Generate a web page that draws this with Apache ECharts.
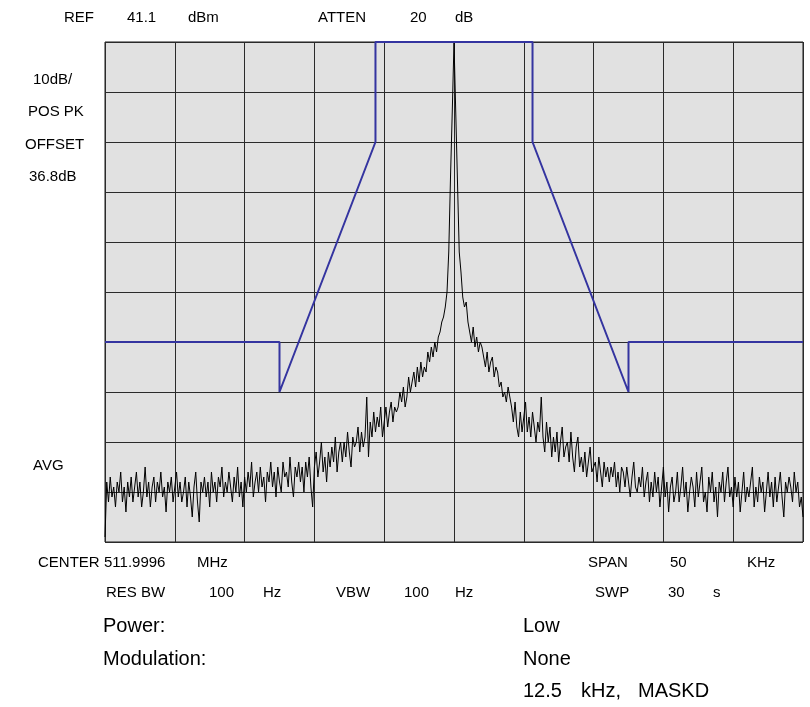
<!DOCTYPE html>
<html><head><meta charset="utf-8">
<script src="https://cdn.jsdelivr.net/npm/echarts@6/dist/echarts.min.js"></script>
<style>html,body{margin:0;padding:0;background:#fff}#c{width:810px;height:707px}</style>
</head><body><div id="c"></div>
<script>
// Sweep: -25 kHz .. +25 kHz around centre, 0.125 kHz per sample (401 samples)
const freqStartKHz = -25;
const freqStepKHz = 0.125;
// Trace level in dB relative to the reference line (top of screen = 0 dB, 10 dB/div)
const traceDb = [
 -99,-88,-92,-87,-91,-89,-93,-88,
 -90,-86,-92,-89,-94,-88,-91,-87,
 -92,-89,-86,-91,-88,-93,-90,-85,
 -91,-88,-93,-89,-87,-92,-88,-90,
 -86,-91,-89,-94,-88,-90,-87,-92,
 -89,-86,-91,-88,-92,-90,-87,-93,
 -88,-91,-95,-89,-86,-92,-96,-88,
 -90,-87,-91,-88,-93,-86,-90,-88,
 -92,-87,-89,-85,-91,-88,-90,-86,
 -89,-92,-87,-90,-85,-91,-88,-93,
 -87,-90,-86,-89,-84,-91,-88,-86,
 -90,-85,-89,-87,-92,-86,-88,-84,
 -89,-86,-91,-85,-88,-90,-84,-87,
 -86,-89,-83,-88,-91,-85,-87,-84,
 -88,-85,-90,-84,-87,-83,-89,-93,
 -85,-82,-87,-84,-80,-86,-83,-88,
 -82,-85,-81,-84,-79,-86,-82,-80,
 -84,-80,-83,-78,-82,-85,-79,-81,
 -80,-77,-82,-78,-81,-79,-71,-83,
 -76,-79,-74,-78,-75,-77,-73,-79,
 -76,-73,-77,-74,-72,-76,-73,-74,
 -73,-70,-72,-69,-73,-71,-67,-70,
 -68,-66,-69,-65,-68,-64,-67,-65,
 -66,-62,-64,-61,-63,-60,-62,-59,
 -58,-56,-55,-53,-50,-42,-27,-14,
 0,
 -14,-28,-42,-46,-51,-53,-52,-56,
 -58,-60,-57,-61,-59,-62,-60,-61,
 -63,-65,-62,-66,-64,-63,-67,-65,
 -66,-69,-68,-71,-70,-72,-69,-71,
 -73,-76,-72,-77,-79,-74,-78,-75,
 -72,-78,-75,-79,-74,-77,-80,-76,
 -78,-71,-79,-82,-76,-80,-77,-83,
 -79,-82,-78,-84,-80,-77,-83,-81,
 -80,-84,-78,-83,-86,-81,-79,-85,
 -83,-86,-82,-87,-84,-81,-86,-85,
 -84,-88,-83,-86,-89,-84,-87,-85,
 -88,-85,-87,-84,-89,-86,-90,-85,
 -86,-89,-85,-88,-91,-87,-84,-89,
 -90,-87,-89,-85,-91,-88,-86,-92,
 -88,-91,-86,-90,-87,-93,-89,-85,
 -91,-88,-94,-89,-87,-92,-90,-86,
 -92,-89,-85,-91,-88,-94,-90,-87,
 -89,-93,-86,-91,-88,-85,-92,-90,
 -94,-87,-90,-86,-92,-89,-95,-88,
 -90,-86,-92,-88,-85,-91,-89,-93,
 -87,-91,-88,-94,-90,-86,-92,-89,
 -91,-88,-85,-93,-89,-92,-87,-90,
 -88,-94,-90,-86,-91,-88,-93,-87,
 -92,-89,-86,-91,-95,-88,-90,-87,
 -89,-92,-86,-90,-88,-93,-91,-95
];
// Emission mask D (12.5 kHz channel)
const maskFreqKHz = [-25, -12.5, -12.5, -5.625, -5.625, 5.625, 5.625, 12.5, 12.5, 25];
const maskDb      = [-60, -60,   -70,   -20,    0,      0,     -20,   -70,  -60,  -60];

// Screen annotations: [text, left x, centre y, font size]
const annotations = [
  ['REF', 64, 18, 15], ['41.1', 127, 18, 15], ['dBm', 188, 18, 15],
  ['ATTEN', 318, 18, 15], ['20', 410, 18, 15], ['dB', 455, 18, 15],
  ['10dB/', 33, 80, 15], ['POS PK', 28, 112, 15], ['OFFSET', 25, 145, 15], ['36.8dB', 29, 177, 15],
  ['AVG', 33, 466, 15],
  ['CENTER', 38, 563, 15], ['511.9996', 104, 563, 15], ['MHz', 197, 563, 15],
  ['SPAN', 588, 563, 15], ['50', 670, 563, 15], ['KHz', 747, 563, 15],
  ['RES BW', 106, 593, 15], ['100', 209, 593, 15], ['Hz', 263, 593, 15],
  ['VBW', 336, 593, 15], ['100', 404, 593, 15], ['Hz', 455, 593, 15],
  ['SWP', 595, 593, 15], ['30', 668, 593, 15], ['s', 713, 593, 15],
  ['Power:', 103, 626, 20], ['Low', 523, 626, 20],
  ['Modulation:', 103, 659, 20], ['None', 523, 659, 20],
  ['12.5', 523, 691, 20], ['kHz,', 581, 691, 20], ['MASKD', 638, 691, 20]
];

const chart = echarts.init(document.getElementById('c'), null, {renderer: 'canvas'});
const FONT = '"Liberation Sans", Arial, sans-serif';
chart.setOption({
  animation: false,
  backgroundColor: '#ffffff',
  grid: {left: 105, top: 42, width: 698, height: 500, show: true,
         backgroundColor: '#e1e1e1', borderColor: '#1a1a1a', borderWidth: 1},
  xAxis: {type: 'value', min: -25, max: 25, interval: 5,
          axisLine: {show: false}, axisTick: {show: false}, axisLabel: {show: false},
          splitLine: {show: true, lineStyle: {color: '#2a2a2a', width: 1}}},
  yAxis: {type: 'value', min: -100, max: 0, interval: 10,
          axisLine: {show: false}, axisTick: {show: false}, axisLabel: {show: false},
          splitLine: {show: true, lineStyle: {color: '#2a2a2a', width: 1}}},
  series: [
    {type: 'line', data: traceDb.map((v, i) => [freqStartKHz + i * freqStepKHz, v]),
     showSymbol: false, symbol: 'none', lineStyle: {color: '#000000', width: 1}, z: 2},
    {type: 'line', data: maskFreqKHz.map((f, i) => [f, maskDb[i]]),
     showSymbol: false, symbol: 'none', clip: false,
     lineStyle: {color: '#3434a0', width: 2}, z: 3}
  ],
  graphic: annotations.map(a => ({
    type: 'text', x: a[1], y: a[2],
    style: {text: a[0], fill: '#000', font: a[3] + 'px ' + FONT,
            align: 'left', verticalAlign: 'middle'}
  }))
});
</script>
</body></html>
